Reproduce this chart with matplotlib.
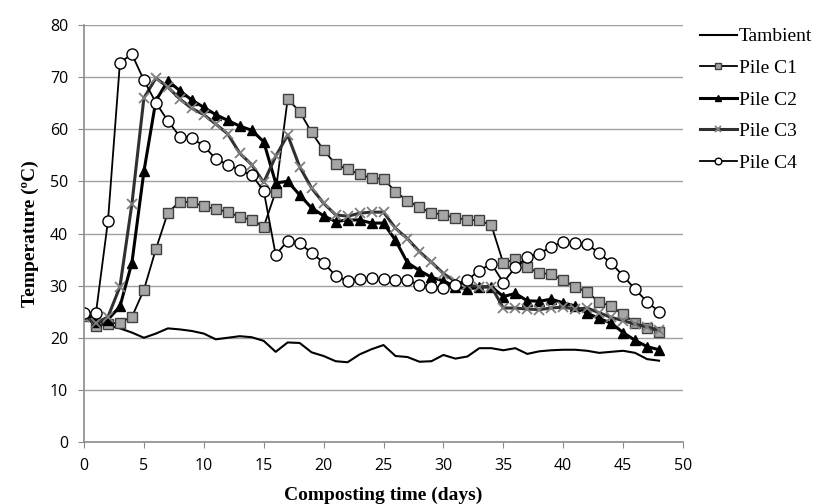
import matplotlib
matplotlib.use("Agg")
import matplotlib.pyplot as plt

days = list(range(49))

t_ambient = [24.0, 23.0, 22.4, 21.8, 21.0, 20.0, 20.8, 21.8, 21.6, 21.3,
             20.8, 19.7, 20.0, 20.3, 20.1, 19.4, 17.3, 19.1, 19.0, 17.2,
             16.5, 15.5, 15.3, 16.8, 17.8, 18.6, 16.5, 16.3, 15.4, 15.5,
             16.7, 16.0, 16.4, 18.0, 18.0, 17.6, 18.0, 16.9, 17.4, 17.6,
             17.7, 17.7, 17.5, 17.1, 17.3, 17.5, 17.1, 15.9, 15.6]

pile_c1 = [24.2, 22.2, 22.7, 22.9, 24.0, 29.2, 37.0, 44.0, 46.1, 46.0,
           45.2, 44.7, 44.1, 43.2, 42.6, 41.3, 48.0, 65.8, 63.4, 59.4,
           56.0, 53.3, 52.3, 51.4, 50.6, 50.5, 48.0, 46.3, 45.0, 44.0,
           43.6, 43.0, 42.6, 42.5, 41.6, 34.3, 35.1, 33.5, 32.4, 32.2,
           31.0, 29.8, 28.7, 26.9, 26.0, 24.5, 22.9, 21.9, 21.2]

pile_c2 = [25.0, 23.0, 23.5, 26.0, 34.4, 51.9, 65.5, 69.3, 67.4, 65.6,
           64.2, 62.8, 61.7, 60.6, 59.8, 57.6, 49.7, 50.0, 47.4, 44.9,
           43.4, 42.3, 42.6, 42.6, 42.0, 42.0, 38.7, 34.4, 32.9, 31.6,
           30.9, 29.8, 29.3, 29.7, 29.8, 27.9, 28.5, 27.1, 27.0, 27.4,
           26.7, 26.1, 24.7, 23.7, 22.8, 21.0, 19.5, 18.3, 17.7]

pile_c3 = [24.0, 22.8, 24.0, 29.8, 45.7, 66.0, 69.8, 68.1, 65.8, 64.0,
           62.8, 61.0, 59.1, 55.4, 53.2, 49.8, 54.8, 58.9, 52.8, 48.7,
           45.8, 43.6, 43.3, 43.9, 44.1, 44.1, 41.0, 39.0, 36.5, 34.5,
           32.3, 30.8, 30.1, 29.8, 29.8, 25.7, 25.7, 25.5, 25.4, 25.7,
           25.9, 25.5, 25.7, 24.8, 23.9, 23.3, 22.6, 22.1, 21.4]

pile_c4 = [24.8, 24.8, 42.4, 72.8, 74.4, 69.4, 65.1, 61.6, 58.6, 58.3,
           56.8, 54.3, 53.2, 52.2, 51.2, 48.2, 35.9, 38.6, 38.1, 36.3,
           34.4, 31.9, 30.9, 31.2, 31.4, 31.2, 31.1, 31.1, 30.1, 29.7,
           29.6, 30.2, 31.1, 32.9, 34.2, 30.6, 33.5, 35.5, 36.1, 37.5,
           38.4, 38.1, 38.0, 36.2, 34.3, 31.9, 29.3, 26.9, 25.0]

fig = plt.figure(figsize=(8.14, 5.04), dpi=100)
ax = fig.add_axes([0.1032, 0.123, 0.7359, 0.8274])

ax.plot(days, t_ambient, color="black", lw=1.5, label="Tambient")
ax.plot(days, pile_c1, color="black", lw=1.3, marker="s", ms=6.5,
        mfc="#a6a6a6", mec="#404040", mew=1.0, label="Pile C1")
ax.plot(days, pile_c2, color="black", lw=2.2, marker="^", ms=7.5,
        mfc="black", mec="black", label="Pile C2")
ax.plot(days, pile_c3, color="#303030", lw=2.2, marker="x", ms=7,
        mec="#7f7f7f", mew=1.3, label="Pile C3")
ax.plot(days, pile_c4, color="black", lw=1.3, marker="o", ms=8,
        mfc="white", mec="black", mew=1.0, label="Pile C4")

ax.set_xlim(0, 50)
ax.set_ylim(0, 80)
ax.set_xticks(range(0, 51, 5))
ax.set_yticks(range(0, 81, 10))
ax.grid(axis="y", color="#a0a0a0", lw=1.0)
ax.set_axisbelow(True)

for side in ["top", "right"]:
    ax.spines[side].set_visible(False)
for side in ["left", "bottom"]:
    ax.spines[side].set_color("#8c8c8c")
    ax.spines[side].set_linewidth(1.2)
ax.tick_params(axis="both", direction="out", length=4.5, color="#8c8c8c",
               labelsize=11.5, pad=7)
for lab in ax.get_xticklabels() + ax.get_yticklabels():
    lab.set_family("Open Sans")

ax.set_xlabel("Composting time (days)", family="Liberation Serif",
              fontweight="bold", fontsize=14, labelpad=9)
ax.set_ylabel("Temperature (ºC)", family="Liberation Serif",
              fontweight="bold", fontsize=14, labelpad=8)

leg = ax.legend(loc="upper left", bbox_to_anchor=(1.015, 1.012), frameon=False,
                prop={"family": "Liberation Serif", "size": 14},
                handlelength=1.9, handletextpad=0.1, labelspacing=0.72,
                markerscale=0.6, borderaxespad=0)

fig.savefig("out.png", dpi=100)
